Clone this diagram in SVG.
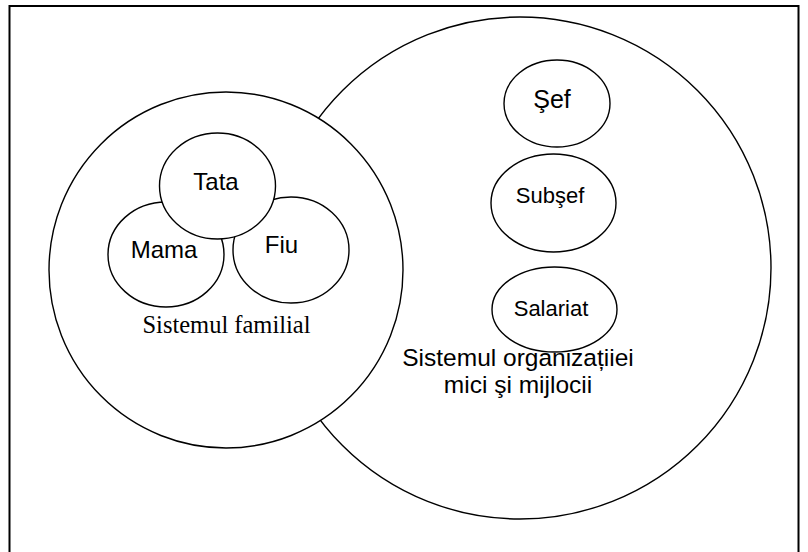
<svg xmlns="http://www.w3.org/2000/svg" width="808" height="552" viewBox="0 0 808 552">
  <style>
    .shape { fill: #ffffff; stroke: #000000; stroke-width: 1.4; }
    .frame { fill: #ffffff; stroke: #000000; stroke-width: 2; }
    .sans { font-family: "Liberation Sans", Arial, sans-serif; fill: #000000; }
    .serif { font-family: "Liberation Serif", "Times New Roman", serif; fill: #000000; }
  </style>

  <!-- page frame (bottom edge runs off the canvas) -->
  <rect class="frame" x="9.5" y="6" width="789" height="570"/>

  <!-- organisation system -->
  <g id="sistem-organizatie">
    <ellipse class="shape" cx="520" cy="268" rx="251" ry="251"/>
    <text class="sans" x="518" y="366" font-size="24.5" text-anchor="middle">Sistemul organizațiiei</text>
    <text class="sans" x="518" y="393" font-size="24.5" text-anchor="middle">mici şi mijlocii</text>
  </g>

  <g id="sef">
    <ellipse class="shape" cx="557" cy="103.5" rx="53" ry="43.5"/>
    <text class="sans" x="552" y="108" font-size="25" text-anchor="middle">Şef</text>
  </g>

  <g id="subsef">
    <ellipse class="shape" cx="553.5" cy="203" rx="62.5" ry="49"/>
    <text class="sans" x="550" y="203" font-size="22" text-anchor="middle">Subşef</text>
  </g>

  <g id="salariat">
    <ellipse class="shape" cx="554.5" cy="309.5" rx="62.5" ry="42.5"/>
    <text class="sans" x="551" y="316" font-size="22" text-anchor="middle">Salariat</text>
  </g>

  <!-- family system -->
  <g id="sistem-familial">
    <ellipse class="shape" cx="226" cy="270" rx="177" ry="178"/>
    <text class="serif" x="226.5" y="333" font-size="24.5" text-anchor="middle">Sistemul familial</text>
  </g>

  <g id="mama">
    <ellipse class="shape" cx="166" cy="254.5" rx="58" ry="52.5"/>
    <text class="sans" x="164" y="258" font-size="24" text-anchor="middle">Mama</text>
  </g>

  <g id="fiu">
    <ellipse class="shape" cx="291" cy="250" rx="58" ry="53"/>
    <text class="sans" x="281.5" y="253" font-size="24" text-anchor="middle">Fiu</text>
  </g>

  <g id="tata">
    <ellipse class="shape" cx="217.5" cy="186" rx="58" ry="53"/>
    <text class="sans" x="216" y="190" font-size="24" text-anchor="middle">Tata</text>
  </g>
</svg>
